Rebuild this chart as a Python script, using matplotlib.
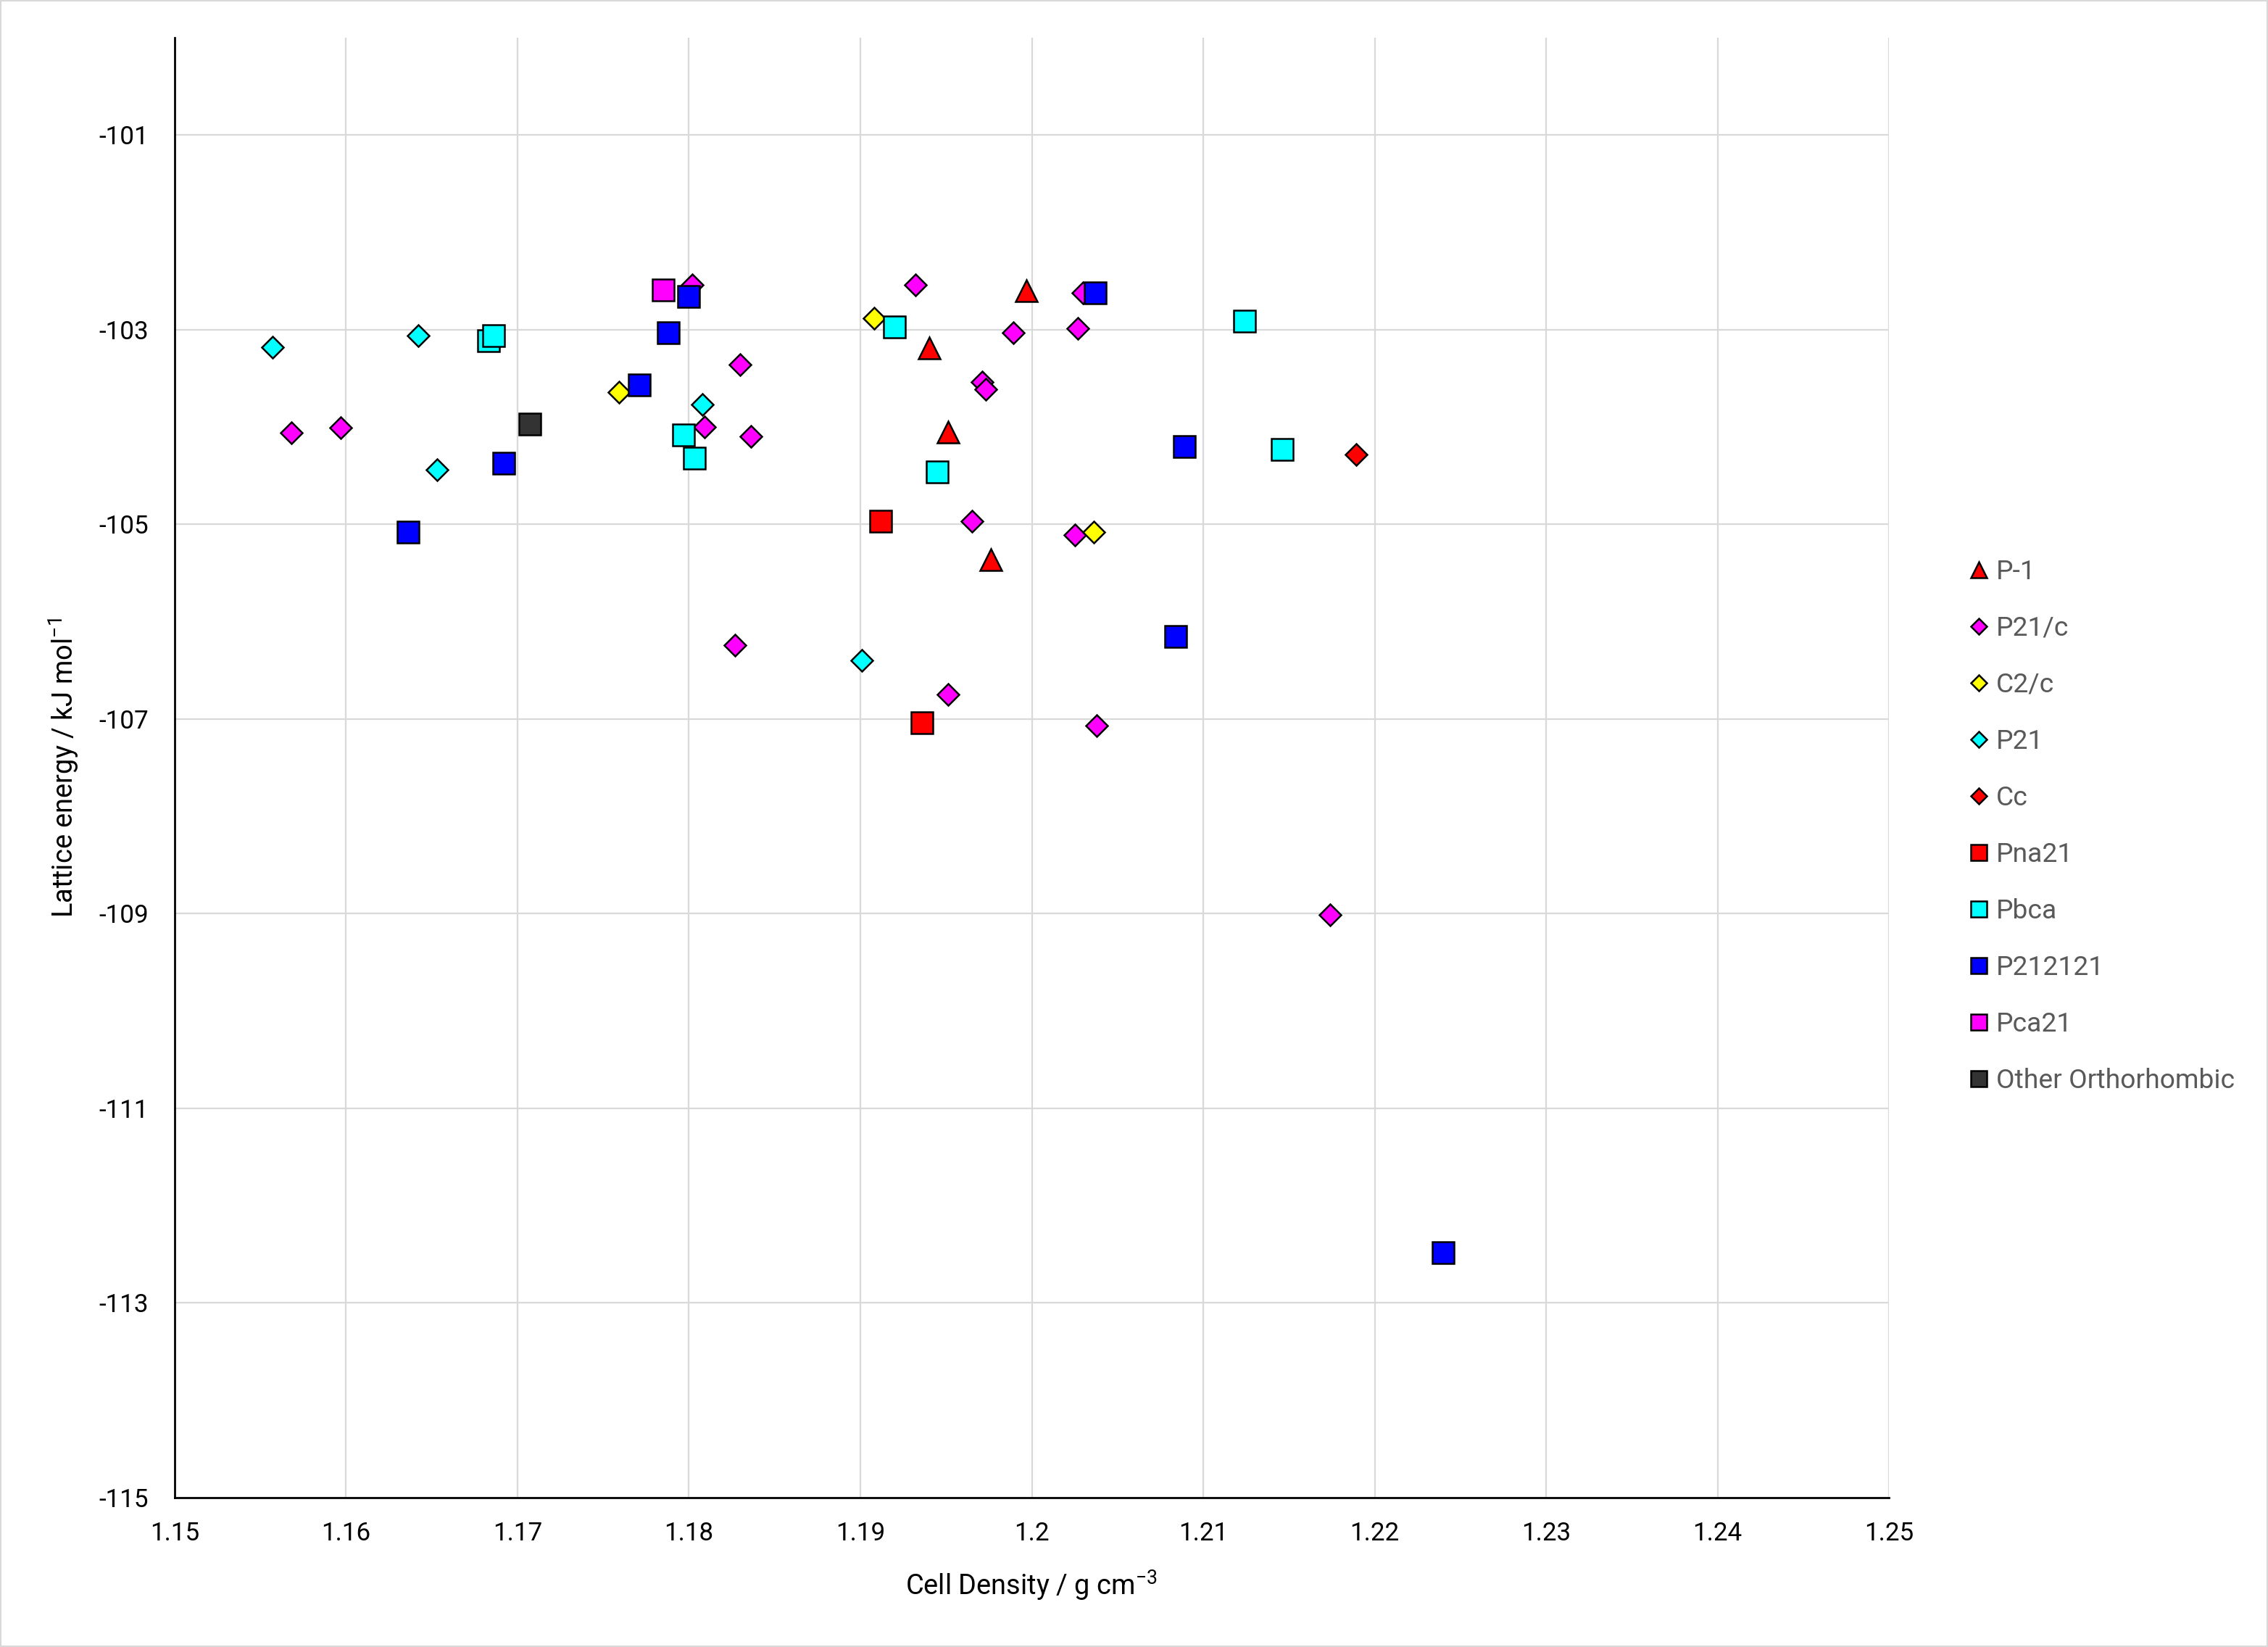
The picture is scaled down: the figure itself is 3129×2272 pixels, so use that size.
import matplotlib
matplotlib.use("Agg")
import matplotlib.pyplot as plt
from matplotlib.patches import Rectangle

plt.rcParams['font.family'] = ['Roboto', 'DejaVu Sans']
plt.rcParams['mathtext.fontset'] = 'custom'
plt.rcParams['mathtext.rm'] = 'Roboto'
plt.rcParams['mathtext.it'] = 'Roboto'

# space groups, in legend order
groups = ['P-1', 'P21/c', 'C2/c', 'P21', 'Cc', 'Pna21', 'Pbca', 'P212121', 'Pca21',
          'Other Orthorhombic']
colors = ['#FF0000', '#FF00FF', '#FFFF00', '#00FFFF', '#FF0000', '#FF0000', '#00FFFF',
          '#0000FF', '#FF00FF', '#333333']
markers = ['^', 'D', 'D', 'D', 'D', 's', 's', 's', 's', 's']

# density (g cm-3) and lattice energy (kJ/mol) per space group
p1_x = [1.1997, 1.1940, 1.1951, 1.1976]
p1_y = [-102.60, -103.19, -104.05, -105.36]

p21c_x = [1.1568, 1.1597, 1.1802, 1.1830, 1.1809, 1.1836, 1.1932, 1.1989, 1.1971, 1.1973,
          1.2027, 1.2030, 1.1965, 1.2025, 1.1827, 1.1951, 1.2038, 1.2174]
p21c_y = [-104.06, -104.01, -102.54, -103.36, -104.00, -104.10, -102.54, -103.03, -103.54,
          -103.61, -102.99, -102.62, -104.97, -105.11, -106.24, -106.75, -107.07, -109.01]

c2c_x = [1.1759, 1.1908, 1.2036]
c2c_y = [-103.64, -102.88, -105.08]

p21_x = [1.1557, 1.1642, 1.1653, 1.1808, 1.1901]
p21_y = [-103.18, -103.06, -104.44, -103.77, -106.40]

cc_x = [1.2189]
cc_y = [-104.28]

pna21_x = [1.1912, 1.1936]
pna21_y = [-104.97, -107.04]

pbca_x = [1.1683, 1.1686, 1.1797, 1.1803, 1.1920, 1.1945, 1.2124, 1.2146]
pbca_y = [-103.11, -103.06, -104.08, -104.32, -102.97, -104.46, -102.91, -104.23]

p212121_x = [1.1636, 1.1692, 1.1771, 1.1788, 1.1800, 1.2037, 1.2089, 1.2084, 1.2240]
p212121_y = [-105.08, -104.37, -103.57, -103.03, -102.66, -102.62, -104.20, -106.15, -112.48]

pca21_x = [1.1785]
pca21_y = [-102.59]

other_x = [1.1707]
other_y = [-103.97]

xs = [p1_x, p21c_x, c2c_x, p21_x, cc_x, pna21_x, pbca_x, p212121_x, pca21_x, other_x]
ys = [p1_y, p21c_y, c2c_y, p21_y, cc_y, pna21_y, pbca_y, p212121_y, pca21_y, other_y]

x_ticks = [1.15, 1.16, 1.17, 1.18, 1.19, 1.2, 1.21, 1.22, 1.23, 1.24, 1.25]
y_ticks = [-115, -113, -111, -109, -107, -105, -103, -101]

fig = plt.figure(figsize=(15.645, 11.36), dpi=200)
ax = fig.add_axes([0.0770, 0.0907, 0.7559, 0.8864])

for x, y, name, c, m in zip(xs, ys, groups, colors, markers):
    ms = 7.6 if m == 'D' else 10.8
    ax.plot(x, y, linestyle='none', marker=m, ms=ms, mfc=c, mec='black', mew=0.9,
            label=name, zorder=3)

ax.set_xlim(1.15, 1.25)
ax.set_ylim(-115, -100)
ax.set_xticks(x_ticks)
ax.set_xticklabels([f'{v:g}' for v in x_ticks])
ax.set_yticks(y_ticks)
ax.set_yticklabels([f'{v:g}' for v in y_ticks])
ax.tick_params(length=0, labelsize=12.6, colors='black')
ax.tick_params(axis='x', pad=12)
ax.tick_params(axis='y', pad=13)

ax.grid(True, color='#D9D9D9', linewidth=0.8, zorder=0)
ax.set_axisbelow(True)
for s in ['top', 'right']:
    ax.spines[s].set_visible(False)
for s in ['left', 'bottom']:
    ax.spines[s].set_linewidth(1.0)
    ax.spines[s].set_color('black')
    ax.spines[s].set_zorder(4)

fig.text(0.4548, 1 - 2187 / 2272, r'Cell Density / g cm$^{\mathrm{-3}}$', ha='center',
         va='center', fontsize=13.7)
fig.text(88 / 3129, 1 - 1059 / 2272, r'Lattice energy / kJ mol$^{\mathrm{-1}}$', ha='center',
         va='center', rotation=90, fontsize=13.7)

leg = ax.legend(loc='upper left', bbox_to_anchor=(2700 / 3129, 1 - 752 / 2272),
                bbox_transform=fig.transFigure, frameon=False, fontsize=13.4,
                markerscale=0.75, handlelength=0.6, handletextpad=0.35,
                labelspacing=1.13, borderpad=0)
for t in leg.get_texts():
    t.set_color('#595959')

fig.patches.append(Rectangle((0, 0), 1, 1, transform=fig.transFigure, fill=False,
                             edgecolor='#D9D9D9', linewidth=1.5))

fig.savefig('out.png', dpi=200)
